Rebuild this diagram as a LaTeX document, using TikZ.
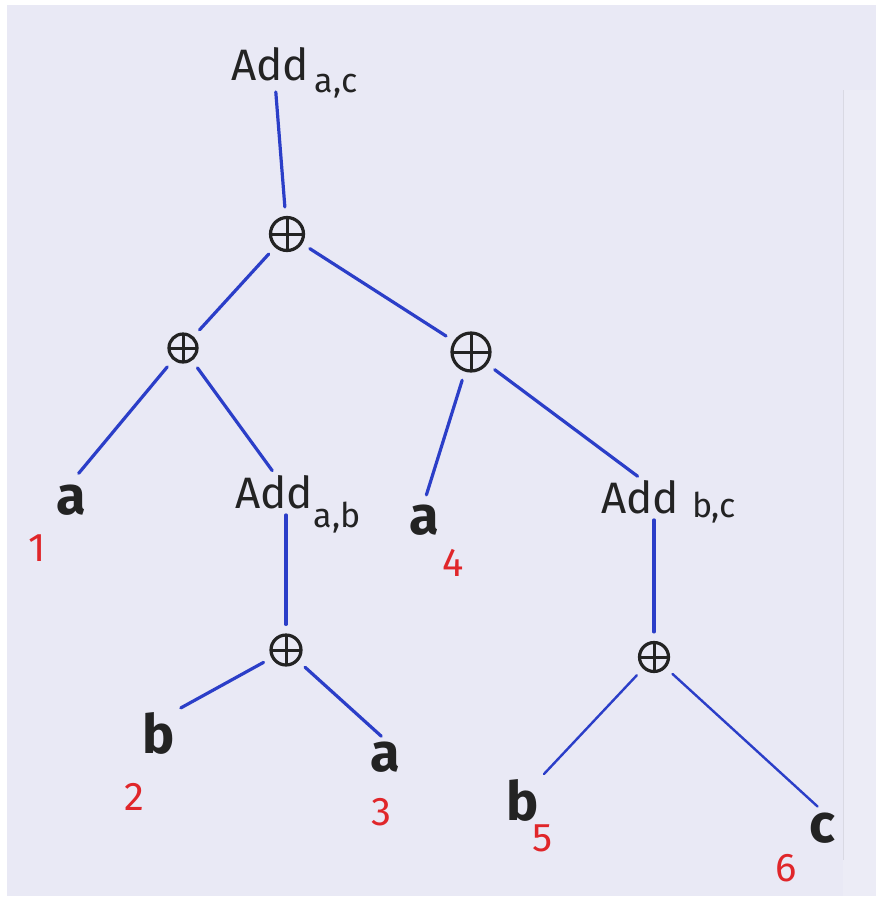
\documentclass[tikz,border=0pt]{standalone}
\usepackage{fontspec}
\setmainfont{Fira Sans}
\definecolor{paper}{HTML}{E9E9F5}
\definecolor{edgeblue}{HTML}{2B3EC8}
\definecolor{numred}{HTML}{E0262A}
\definecolor{ink}{HTML}{232323}
\tikzset{
  edge/.style={draw=edgeblue, line width=3.2pt, line cap=round, shorten <=9pt, shorten >=9pt},
  opl/.style={circle, draw=ink, line width=3.2pt, inner sep=0pt, minimum size=#1,
    path picture={\draw[ink, line width=3pt]
      (path picture bounding box.north) -- (path picture bounding box.south)
      (path picture bounding box.west) -- (path picture bounding box.east);}},
  opl/.default=30pt,
  addtxt/.style={font=\fontsize{44}{52}\selectfont, text=ink, inner sep=2pt},
  subtxt/.style={font=\fontsize{34}{40}\selectfont, text=ink, inner sep=0pt},
  leaf/.style={font=\fontsize{54}{60}\selectfont\bfseries, text=ink, inner sep=2pt},
  num/.style={font=\fontsize{40}{48}\selectfont, text=numred, inner sep=0pt},
}
\begin{document}
\begin{tikzpicture}[x=1pt, y=-1pt]
  \useasboundingbox (0,0) rectangle (876,906);
  \fill[white] (0,0) rectangle (876,906);
  \fill[paper] (7,5) rectangle (876,896);
  \fill[paper!88!white] (843,90) rectangle (876,896);
  \draw[paper!85!gray, line width=1pt] (843,90) -- (843,860);

  % nodes
  \node[addtxt] (Aac) at (270,64) {Add};
  \node[subtxt] (Sac) at (336,86) {a,c};
  \node[opl=33pt] (root) at (287,234) {};
  \node[opl=28pt] (L) at (183,348) {};
  \node[opl=38pt] (R) at (471,352) {};

  \node[leaf] (a1) at (71,500) {a};
  \node[num] (n1) at (37,548) {1};

  \node[addtxt] (Aab) at (274,492) {Add};
  \node[subtxt] (Sab) at (337,518) {a,b};

  \node[leaf] (a4) at (424,520) {a};
  \node[num] (n4) at (453,563) {4};

  \node[addtxt] (Abc) at (640,497) {Add};
  \node[subtxt] (Sbc) at (714,508) {b,c};

  \node[opl=30pt] (B1) at (286,650) {};
  \node[opl=29pt] (B2) at (654,657) {};

  \node[leaf] (b2) at (159,733) {b};
  \node[num] (n2) at (134,797) {2};
  \node[leaf] (a3) at (385,757) {a};
  \node[num] (n3) at (381,812) {3};

  \node[leaf] (b5) at (523,800) {b};
  \node[num] (n5) at (543,838) {5};
  \node[leaf] (c6) at (822,828) {c};
  \node[num] (n6) at (786,868) {6};

  % connectors
  \draw[edge] (Aac.-75) -- (root);
  \draw[edge] (root) -- (L);
  \draw[edge] (root) -- (R);
  \draw[edge, shorten >=12pt] (L) -- (a1.north);
  \draw[edge, shorten >=3pt] (L) -- (Aab.north);
  \draw[edge, shorten >=8pt] (R) -- (a4.north);
  \draw[edge, shorten >=3pt] (R) -- (Abc.north);
  \draw[edge, shorten <=4pt] (Aab.south -| B1) -- (B1);
  \draw[edge, shorten <=4pt] (Abc.south -| B2) -- (B2);
  \draw[edge, shorten >=4pt] (B1) -- (b2.north east);
  \draw[edge, shorten >=5pt] (B1) -- (a3.north);
  \draw[edge, line width=2.4pt, shorten >=4pt] (B2) -- (b5.north east);
  \draw[edge, line width=2.4pt, shorten >=6pt] (B2) -- (c6.north);
\end{tikzpicture}
\end{document}
